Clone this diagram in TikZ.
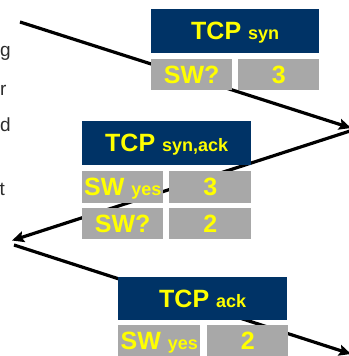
\documentclass[tikz,border=0pt]{standalone}
\usepackage{fontspec}
\setmainfont{Liberation Sans}
\usetikzlibrary{arrows.meta}
\definecolor{navy}{RGB}{0,51,102}
\definecolor{cellgray}{RGB}{168,168,168}
\definecolor{txtyel}{RGB}{255,255,0}
\definecolor{sidegray}{RGB}{45,45,45}
\tikzset{
  hdr/.style={anchor=north west, fill=navy, inner sep=0pt, text=txtyel,
    font=\fontsize{25}{25}\selectfont\bfseries, text height=17.5pt, text depth=0pt},
  cell/.style={anchor=north west, fill=cellgray, inner sep=0pt, text=txtyel,
    font=\fontsize{25}{25}\selectfont\bfseries, text height=17.5pt, text depth=0pt},
  side/.style={anchor=base west, inner sep=0pt, text=sidegray,
    font=\fontsize{19}{19}\selectfont},
  msg/.style={line width=3.2pt, -{Stealth[length=12pt,width=11pt,inset=2pt]}},
}
\newcommand{\smalltxt}[1]{{\fontsize{18}{18}\selectfont #1}}
\begin{document}
\begin{tikzpicture}[x=1pt,y=-1pt]
\useasboundingbox (0,0) rectangle (348,356);
% side text fragments
\node[side] (s1) at (0,56) {g};
\node[side] (s2) at (0,95) {r};
\node[side] (s3) at (0,131.5) {d};
\node[side] (s4) at (-0.5,195) {t};
% connector end points
\coordinate (a0) at (20,22);
\coordinate (a1) at (351,128);
\coordinate (b0) at (350,131);
\coordinate (b1) at (12,240.5);
\coordinate (c0) at (14,245);
\coordinate (c1) at (351,354);
\draw[msg] (a0) -- (a1);
\draw[msg] (b0) -- (b1);
\draw[msg] (c0) -- (c1);
% packet 1
\node[hdr, minimum width=168pt, minimum height=44pt] (h1) at (151,9) {TCP \smalltxt{syn}};
\node[cell, minimum width=81pt, minimum height=31pt] (p1a) at (151,59) {SW?};
\node[cell, minimum width=81pt, minimum height=31pt] (p1b) at (238,59) {3};
% packet 2
\node[hdr, minimum width=169pt, minimum height=44pt] (h2) at (82,121) {TCP \smalltxt{syn,ack}};
\node[cell, minimum width=81pt, minimum height=32pt] (p2a) at (82,171) {SW \smalltxt{yes}};
\node[cell, minimum width=82pt, minimum height=32pt] (p2b) at (169,171) {3};
\node[cell, minimum width=81pt, minimum height=31pt] (p2c) at (82,208) {SW?};
\node[cell, minimum width=82pt, minimum height=31pt] (p2d) at (169,208) {2};
% packet 3
\node[hdr, minimum width=169pt, minimum height=43pt] (h3) at (118,277) {TCP \smalltxt{ack}};
\node[cell, minimum width=82pt, minimum height=31pt] (p3a) at (118,325) {SW \smalltxt{yes}};
\node[cell, minimum width=81pt, minimum height=31pt] (p3b) at (207,325) {2};
\end{tikzpicture}
\end{document}
